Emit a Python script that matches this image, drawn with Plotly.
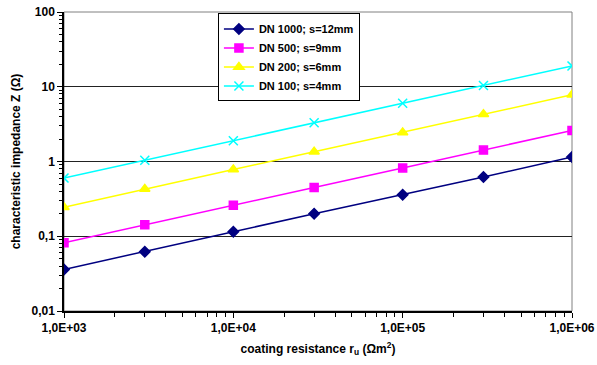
import plotly.graph_objects as go

coating_resistance = [1e3, 3e3, 1e4, 3e4, 1e5, 3e5, 1e6]
dn1000 = [0.036, 0.062, 0.115, 0.2, 0.36, 0.62, 1.15]
dn500 = [0.082, 0.143, 0.26, 0.45, 0.82, 1.42, 2.6]
dn200 = [0.245, 0.43, 0.78, 1.35, 2.45, 4.3, 7.8]
dn100 = [0.6, 1.04, 1.9, 3.3, 6.0, 10.4, 19.0]
series_names = ["DN 1000; s=12mm", "DN 500; s=9mm", "DN 200; s=6mm", "DN 100; s=4mm"]
x_tick_vals = [1e3, 1e4, 1e5, 1e6]
x_tick_text = ["1,0E+03", "1,0E+04", "1,0E+05", "1,0E+06"]
y_tick_vals = [0.01, 0.1, 1, 10, 100]
y_tick_text = ["0,01", "0,1", "1", "10", "100"]

styles = [
    dict(color="#000080", symbol="diamond", size=8),
    dict(color="#FF00FF", symbol="square", size=8),
    dict(color="#FFFF00", symbol="triangle-up", size=9),
    dict(color="#00FFFF", symbol="x-thin-open", size=9),
]

fig = go.Figure()
for name, vals, st in zip(series_names, [dn1000, dn500, dn200, dn100], styles):
    fig.add_trace(go.Scatter(
        x=coating_resistance, y=vals, name=name, mode="lines+markers",
        line=dict(color=st["color"], width=1.5),
        marker=dict(symbol=st["symbol"], size=st["size"], color=st["color"],
                    line=dict(color=st["color"], width=1.5)),
    ))

def minor_vals(lo, hi):
    out = []
    d = lo
    while d < hi:
        for k in range(2, 10):
            out.append(d * k)
        d *= 10
    return out

FAM = "Liberation Sans, Arial, sans-serif"
font = dict(family=FAM, size=12, color="black")

fig.update_layout(
    width=597, height=365,
    margin=dict(l=64, r=25, t=12, b=54),
    paper_bgcolor="white", plot_bgcolor="white",
    font=font,
    showlegend=True,
    legend=dict(x=0.303, y=0.995, xanchor="left", yanchor="top",
                bgcolor="white", bordercolor="black", borderwidth=1,
                font=dict(family=FAM, size=11, color="black", weight="bold"),
                tracegroupgap=0, itemwidth=30),
    xaxis=dict(
        type="log", range=[3, 6], automargin=False,
        tickmode="array", tickvals=x_tick_vals, ticktext=x_tick_text,
        ticks="outside", ticklen=5, tickcolor="black", tickwidth=1,
        showline=True, linecolor="black", linewidth=1.5,
        showgrid=False, zeroline=False,
        tickfont=dict(family=FAM, size=12, weight="bold"),
        minor=dict(tickmode="array", tickvals=minor_vals(1e3, 1e6), ticks="outside",
                   ticklen=4, tickcolor="black", showgrid=False),
        title=dict(text="coating resistance r<sub>u</sub> (Ωm<sup>2</sup>)",
                   font=dict(family=FAM, size=12, weight="bold"), standoff=10),
    ),
    yaxis=dict(
        type="log", range=[-2, 2], automargin=False,
        tickmode="array", tickvals=y_tick_vals, ticktext=y_tick_text,
        ticks="outside", ticklen=5, tickcolor="black", tickwidth=1,
        showline=True, linecolor="black", linewidth=1.5,
        showgrid=True, gridcolor="#222222", gridwidth=1, zeroline=False,
        tickfont=dict(family=FAM, size=12, weight="bold"),
        minor=dict(tickmode="array", tickvals=minor_vals(0.01, 100), ticks="outside",
                   ticklen=3, tickcolor="black", showgrid=False),
        title=dict(text="characteristic impedance Z (Ω)",
                   font=dict(family=FAM, size=12, weight="bold"), standoff=8),
    ),
)

fig.add_shape(type="rect", xref="paper", yref="paper", x0=0, y0=0, x1=1, y1=1,
              line=dict(color="#808080", width=1), layer="below")

fig.write_html("out.html", config={"displayModeBar": False},
               post_script="document.body.style.margin='0';document.body.style.overflow='hidden';")
